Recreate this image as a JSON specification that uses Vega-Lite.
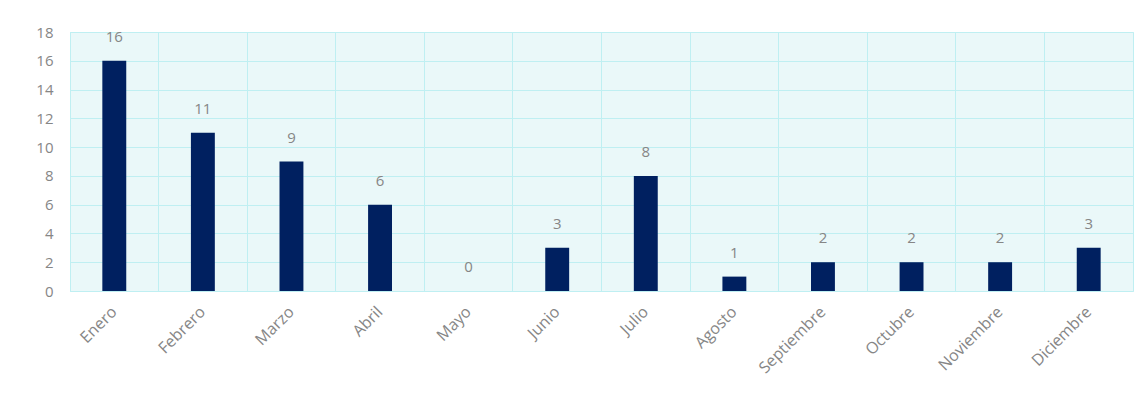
{
  "$schema": "https://vega.github.io/schema/vega-lite/v6.json",
  "autosize": "none",
  "width": 1063,
  "height": 259,
  "padding": {"left": 70, "top": 32, "right": 9, "bottom": 125},
  "background": "white",
  "config": {
    "view": {"fill": "#eaf8f9", "stroke": "#bfeff2", "strokeWidth": 1},
    "font": "Open Sans"
  },
  "data": {
    "values": [
      {"mes": "Enero", "valor": 16},
      {"mes": "Febrero", "valor": 11},
      {"mes": "Marzo", "valor": 9},
      {"mes": "Abril", "valor": 6},
      {"mes": "Mayo", "valor": 0},
      {"mes": "Junio", "valor": 3},
      {"mes": "Julio", "valor": 8},
      {"mes": "Agosto", "valor": 1},
      {"mes": "Septiembre", "valor": 2},
      {"mes": "Octubre", "valor": 2},
      {"mes": "Noviembre", "valor": 2},
      {"mes": "Diciembre", "valor": 3}
    ]
  },
  "encoding": {
    "x": {
      "field": "mes",
      "type": "nominal",
      "sort": null,
      "scale": {"paddingInner": 0, "paddingOuter": 0},
      "axis": {
        "title": null,
        "labelAngle": -45,
        "labelAlign": "right",
        "labelBaseline": "middle",
        "labelPadding": 18,
        "labelFontSize": 16,
        "labelColor": "#868686",
        "ticks": false,
        "domain": false,
        "grid": true,
        "bandPosition": 0,
        "gridColor": "#bfeff2",
        "gridWidth": 1
      }
    },
    "y": {
      "field": "valor",
      "type": "quantitative",
      "scale": {"domain": [0, 18], "nice": false},
      "axis": {
        "title": null,
        "values": [0, 2, 4, 6, 8, 10, 12, 14, 16, 18],
        "labelFontSize": 15,
        "labelColor": "#868686",
        "labelPadding": 17,
        "ticks": false,
        "domain": false,
        "gridColor": "#bfeff2",
        "gridWidth": 1
      }
    }
  },
  "layer": [
    {
      "mark": {"type": "bar", "color": "#002060", "width": {"band": 0.27}}
    },
    {
      "mark": {"type": "text", "baseline": "alphabetic", "dy": -19, "fontSize": 15, "color": "#868686"},
      "encoding": {"text": {"field": "valor", "type": "quantitative"}}
    }
  ]
}
